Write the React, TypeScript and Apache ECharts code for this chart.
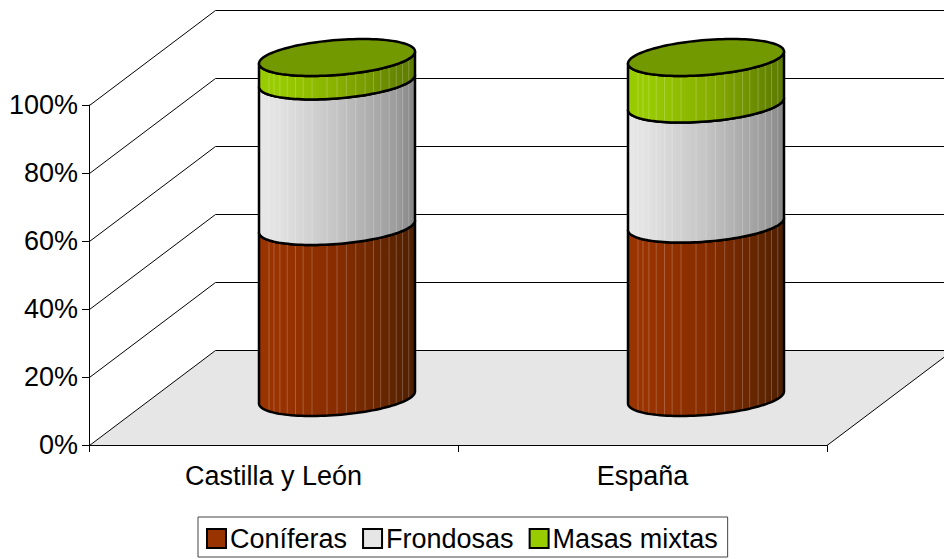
import React, { useEffect, useRef } from "react";
import * as echarts from "echarts";

const categories = ["Castilla y León", "España"];
const coniferas = [50.3, 51];
const frondosas = [42.8, 35.3];
const mixtas = [6.9, 13.7];
const yTicks = [0, 20, 40, 60, 80, 100];

const FONT = "'Liberation Sans', Arial, sans-serif";
const DEPTH_X = 126;
const DEPTH_Y = -95;
const RX = 78;
const TILT = 6;
const RY = 17.5;
const OVER = 126;
const stripes = [0.064, 0.096, 0.134, 0.181, 0.234, 0.283, 0.34, 0.436, 0.5, 0.56, 0.62, 0.68, 0.734, 0.78, 0.834, 0.88, 0.92, 0.96];

const gradient = (stops: string[]) =>
  new echarts.graphic.LinearGradient(0, 0, 1, 0, stops.map((color, i) => ({ offset: [0, 0.12, 0.5, 0.88, 1][i], color })));

const shades: Record<string, string[]> = {
  brown: ["#993300", "#993300", "#872d00", "#5e2400", "#4c1e00"],
  grey: ["#e8e8e8", "#e2e2e2", "#c4c4c4", "#9c9c9c", "#868686"],
  green: ["#99cc00", "#99cc00", "#88b000", "#668500", "#5c7a00"],
};

const rimPoint = (cx: number, cy: number, t: number) => [cx + RX * Math.cos(t), cy - TILT * Math.cos(t) + RY * Math.sin(t)];

function lowerRim(cx: number, cy: number) {
  const pts: number[][] = [];
  for (let i = 0; i <= 60; i++) pts.push(rimPoint(cx, cy, Math.PI - (Math.PI * i) / 60));
  return pts;
}

function fullRim(cx: number, cy: number) {
  const pts: number[][] = [];
  for (let i = 0; i < 120; i++) pts.push(rimPoint(cx, cy, (2 * Math.PI * i) / 120));
  return pts;
}

function cylinderBand(shade: string, isTop: boolean, topFill?: string) {
  return (_p: any, api: any) => {
    const idx = api.value(0);
    const from = api.value(1);
    const to = api.value(2);
    const a = api.coord([idx, from]);
    const b = api.coord([idx, to]);
    const cx = a[0] + DEPTH_X / 2 + 0.5;
    const y0 = a[1] + DEPTH_Y / 2;
    const y1 = b[1] + DEPTH_Y / 2;
    const lower = lowerRim(cx, y0);
    const upper = lowerRim(cx, y1);
    const body = [...lower, ...upper.slice().reverse()];
    const children: any[] = [
      { type: "polygon", shape: { points: body }, style: { fill: gradient(shades[shade]), stroke: "none" } },
    ];
    stripes.forEach((f) => {
      const c = 2 * f - 1;
      const x = cx + RX * c;
      const s = Math.sqrt(1 - c * c);
      children.push({
        type: "line",
        shape: { x1: x, y1: y1 - TILT * c + RY * s, x2: x, y2: y0 - TILT * c + RY * s },
        style: { stroke: "rgba(255,255,255,0.22)", lineWidth: 1 },
      });
    });
    children.push({ type: "polygon", shape: { points: body }, style: { fill: "none", stroke: "#000", lineWidth: 2.5, lineJoin: "round" } });
    if (isTop) {
      children.push({
        type: "polygon",
        shape: { points: fullRim(cx, y1) },
        style: { fill: topFill, stroke: "#000", lineWidth: 2.5 },
      });
    }
    return { type: "group", children };
  };
}

function wallRender(params: any, api: any) {
  const v = api.value(0);
  const y = Math.round(api.coord([0, v])[1]) + 0.5;
  const cs = params.coordSys;
  const left = cs.x + 0.5;
  const right = cs.x + cs.width;
  const children: any[] = [];
  if (v === 0) {
    children.push({
      type: "polygon",
      shape: { points: [[left, y], [left + DEPTH_X, y + DEPTH_Y], [right + DEPTH_X, y + DEPTH_Y], [right, y]] },
      style: { fill: "#e6e6e6", stroke: "#000", lineWidth: 1 },
    });
  } else {
    children.push({
      type: "polyline",
      shape: { points: [[left, y], [left + DEPTH_X, y + DEPTH_Y], [right + OVER, y + DEPTH_Y]] },
      style: { fill: "none", stroke: "#000", lineWidth: 1 },
    });
  }
  return { type: "group", children };
}

const band = (name: string, color: string, shade: string, starts: number[], values: number[], isTop = false, topFill?: string) => ({
  name,
  type: "custom",
  z: 3,
  itemStyle: { color },
  renderItem: cylinderBand(shade, isTop, topFill),
  encode: { x: 0, y: 2 },
  data: values.map((v, i) => [i, starts[i], starts[i] + v]),
});

export default function App() {
  const ref = useRef<HTMLDivElement>(null);
  useEffect(() => {
    const chart = echarts.init(ref.current!, undefined, { renderer: "svg" });
    const secondStart = coniferas.map((v) => v);
    const thirdStart = coniferas.map((v, i) => v + frondosas[i]);
    chart.setOption({
      animation: false,
      backgroundColor: "#fff",
      textStyle: { fontFamily: FONT },
      grid: { left: 89, right: 117, top: 105, bottom: 114, containLabel: false },
      legend: {
        data: ["Coníferas", "Frondosas", "Masas mixtas"],
        left: 198,
        top: 517,
        padding: [8, 10, 5, 8],
        itemWidth: 19,
        itemHeight: 19,
        itemGap: 15,
        borderColor: "#444",
        borderWidth: 1,
        backgroundColor: "#fff",
        icon: "rect",
        itemStyle: { borderColor: "#000", borderWidth: 2 },
        selectedMode: false,
        textStyle: { fontFamily: FONT, fontSize: 27, color: "#000", padding: [0, 0, 0, -1] },
      },
      xAxis: {
        type: "category",
        data: categories,
        axisLine: { lineStyle: { color: "#000" } },
        axisTick: { show: true, length: 7, lineStyle: { color: "#000" } },
        axisLabel: { fontFamily: FONT, fontSize: 27, color: "#000", margin: 17 },
        splitLine: { show: false },
      },
      yAxis: {
        type: "value",
        min: 0,
        max: 100,
        interval: 20,
        axisLine: { show: true, lineStyle: { color: "#000" } },
        axisTick: { show: true, length: 7, lineStyle: { color: "#000" } },
        axisLabel: { fontFamily: FONT, fontSize: 27, color: "#000", margin: 11, padding: [4, 0, 0, 0], formatter: "{value}%" },
        splitLine: { show: false },
      },
      series: [
        { name: "walls", type: "custom", z: 1, silent: true, renderItem: wallRender, encode: { y: 0 }, data: yTicks.map((v) => [v]) },
        band("Coníferas", "#993300", "brown", [0, 0], coniferas),
        band("Frondosas", "#e6e6e6", "grey", secondStart, frondosas),
        band("Masas mixtas", "#99cc00", "green", thirdStart, mixtas, true, "#739900"),
      ],
    });
    return () => chart.dispose();
  }, []);
  return <div ref={ref} style={{ position: "absolute", left: 0, top: 0, width: 944, height: 559 }} />;
}
